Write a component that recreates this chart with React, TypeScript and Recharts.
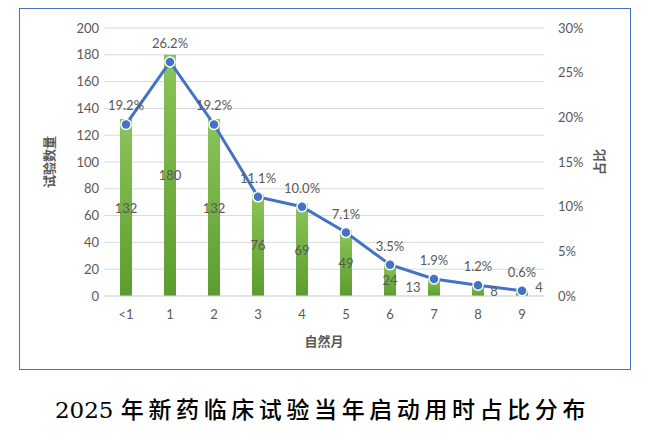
import React from "react";
import {
  ComposedChart,
  Bar,
  Line,
  XAxis,
  YAxis,
  CartesianGrid,
  LabelList,
  Label,
} from "recharts";

const months = ["<1", "1", "2", "3", "4", "5", "6", "7", "8", "9"];
const trialCounts = [132, 180, 132, 76, 69, 49, 24, 13, 8, 4];
const shares = [19.2, 26.2, 19.2, 11.1, 10.0, 7.1, 3.5, 1.9, 1.2, 0.6];
const countTicks = [0, 20, 40, 60, 80, 100, 120, 140, 160, 180, 200];
const shareTicks = [0, 5, 10, 15, 20, 25, 30];

const data = months.map((m, i) => ({
  month: m,
  count: trialCounts[i],
  share: shares[i],
}));

const FONT = "Lato, 'Noto Sans CJK SC', sans-serif";
const GRAY = "#595959";

// Excel put a few small-bar labels beside the bar instead of in the middle
const countLabel = (props: any) => {
  const { x, y, width, height, value, index } = props;
  let cx = x + width / 2;
  let cy = y + height / 2;
  if (index === 7) cx -= 21;
  if (index === 8) cx += 16;
  if (index === 9) {
    cx += 17;
    cy -= 6;
  }
  return (
    <text
      x={cx}
      y={cy}
      textAnchor="middle"
      dominantBaseline="central"
      fill={GRAY}
      fontSize={13}
      fontFamily={FONT}
    >
      {value}
    </text>
  );
};

export default function App() {
  return (
    <div
      style={{
        position: "absolute",
        left: 0,
        top: 0,
        width: 645,
        height: 440,
        background: "#fff",
      }}
    >
      <div
        style={{
          position: "absolute",
          left: 19,
          top: 8,
          width: 610,
          height: 360,
          border: "1.5px solid #4472C4",
        }}
      >
        <ComposedChart
          width={610}
          height={360}
          data={data}
          margin={{ top: 19, right: 26, left: 24, bottom: 23 }}
        >
          <defs>
            <linearGradient id="barGreen" x1="0" y1="0" x2="0" y2="1">
              <stop offset="0%" stopColor="#8CC45A" />
              <stop offset="100%" stopColor="#5C9C2E" />
            </linearGradient>
          </defs>
          <CartesianGrid
            yAxisId="left"
            vertical={false}
            stroke="#D9D9D9"
          />
          <XAxis
            dataKey="month"
            height={50}
            tickLine={false}
            axisLine={{ stroke: "#D9D9D9" }}
            tickMargin={8}
            tick={{ fill: GRAY, fontSize: 13, fontFamily: FONT }}
            interval={0}
          >
            <Label
              value="自然月"
              position="insideBottom"
              offset={0}
              fill={GRAY}
              fontSize={13}
              fontWeight="bold"
              fontFamily={FONT}
            />
          </XAxis>
          <YAxis
            yAxisId="left"
            width={60}
            domain={[0, 200]}
            ticks={countTicks}
            tickLine={false}
            axisLine={false}
            tickSize={3}
            tickMargin={2}
            tick={{ fill: GRAY, fontSize: 13, fontFamily: FONT }}
          >
            <Label
              value="试验数量"
              angle={-90}
              position="insideLeft"
              offset={5}
              fill={GRAY}
              fontSize={13}
              fontWeight="bold"
              fontFamily={FONT}
              style={{ textAnchor: "middle" }}
            />
          </YAxis>
          <YAxis
            yAxisId="right"
            orientation="right"
            width={60}
            domain={[0, 30]}
            ticks={shareTicks}
            tickFormatter={(v: number) => `${v}%`}
            tickLine={false}
            axisLine={false}
            tickSize={6}
            tickMargin={8}
            tick={{ fill: GRAY, fontSize: 13, fontFamily: FONT }}
          >
            <Label
              value="占比"
              angle={-90}
              position="insideRight"
              offset={5}
              fill={GRAY}
              fontSize={13}
              fontWeight="bold"
              fontFamily={FONT}
              style={{ textAnchor: "middle" }}
            />
          </YAxis>
          <Bar
            yAxisId="left"
            dataKey="count"
            barSize={12}
            fill="url(#barGreen)"
            isAnimationActive={false}
          >
            <LabelList dataKey="count" content={countLabel} />
          </Bar>
          <Line
            yAxisId="right"
            dataKey="share"
            type="linear"
            stroke="#4472C4"
            strokeWidth={3}
            dot={{ r: 5, fill: "#4472C4", stroke: "#fff", strokeWidth: 1.5 }}
            isAnimationActive={false}
          >
            <LabelList
              dataKey="share"
              position="top"
              offset={14}
              formatter={(v: any) => `${Number(v).toFixed(1)}%`}
              fill={GRAY}
              fontSize={13}
              fontFamily={FONT}
            />
          </Line>
        </ComposedChart>
      </div>
      <div
        style={{
          position: "absolute",
          left: 0,
          top: 396,
          width: 645,
          textAlign: "center",
          fontFamily: "'DejaVu Serif', 'Noto Sans CJK SC', serif",
          fontSize: 23,
          fontWeight: 500,
          color: "#000",
          lineHeight: "28px",
        }}
      >
        <span>2025 </span>
        <span style={{ letterSpacing: 4.6 }}>年新药临床试验当年启动用时占比分布</span>
      </div>
    </div>
  );
}
